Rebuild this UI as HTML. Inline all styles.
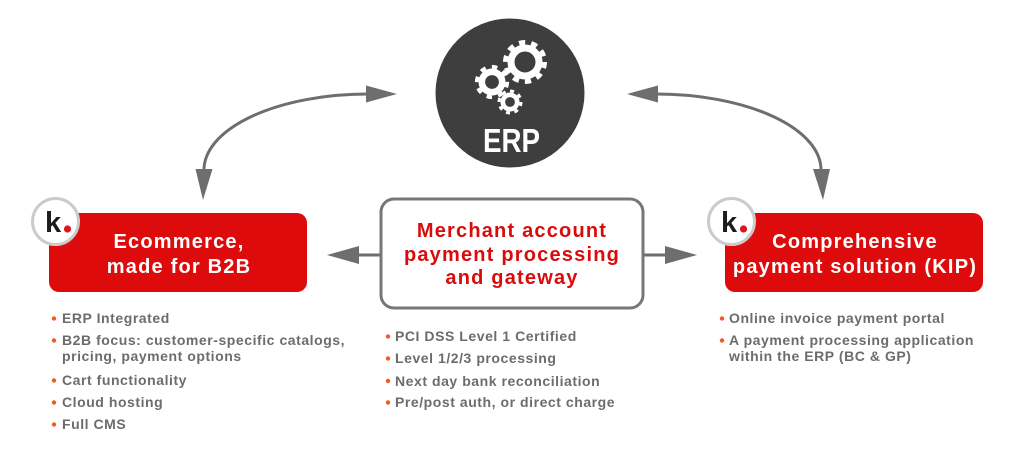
<!DOCTYPE html>
<html>
<head>
<meta charset="utf-8">
<style>
  html,body{margin:0;padding:0;background:#fff;}
  body{width:1024px;height:449px;overflow:hidden;}
  svg{display:block;}
  .b{font-family:"Liberation Sans",Arial,sans-serif;font-weight:bold;}
  .hd{font-size:20px;letter-spacing:1.2px;fill:#fff;}
  .mh{font-size:20px;letter-spacing:1.2px;fill:#d80c0c;}
  .li{font-size:14px;letter-spacing:0.55px;fill:#6c6c6c;}
</style>
</head>
<body>
<svg width="1024" height="449" viewBox="0 0 1024 449" xmlns="http://www.w3.org/2000/svg">
  <rect width="1024" height="449" fill="#fff"/>

  <!-- curved arrows -->
  <g fill="none" stroke="#6e6e6e" stroke-width="3">
    <path d="M368,94 A164,76 0 0 0 204,171"/>
    <path d="M656,94 A165,76 0 0 1 821,171"/>
    <line x1="380" y1="255" x2="356" y2="255"/>
    <line x1="643" y1="255" x2="667" y2="255"/>
  </g>
  <g fill="#6e6e6e">
    <polygon points="366,85.5 397,94 366,102.5"/>
    <polygon points="195.5,169 212.5,169 203,200"/>
    <polygon points="658,85.5 627,94 658,102.5"/>
    <polygon points="813,169 830,169 823,200"/>
    <polygon points="359,246 327,255 359,264"/>
    <polygon points="665,246 697,255 665,264"/>
  </g>

  <!-- ERP circle -->
  <circle cx="510" cy="93" r="74.5" fill="#3e3e3e"/>
  <g fill="none" stroke="#fff">
    <!-- big gear -->
    <circle cx="525" cy="62" r="14" stroke-width="7"/>
    <circle cx="525" cy="62" r="19.5" stroke-width="5" stroke-dasharray="6.2 6.05"/>
    <!-- medium gear -->
    <circle cx="492" cy="82" r="10.2" stroke-width="6.6"/>
    <circle cx="492" cy="82" r="15.2" stroke-width="3.8" stroke-dasharray="5.5 6.4"/>
    <!-- small gear -->
    <circle cx="510" cy="102" r="7.2" stroke-width="4.6"/>
    <circle cx="510" cy="102" r="11" stroke-width="3" stroke-dasharray="4 4.6"/>
  </g>
  <text x="483" y="152" class="b" font-size="33" fill="#fff" textLength="57" lengthAdjust="spacingAndGlyphs">ERP</text>

  <!-- Left red box -->
  <rect x="49" y="213" width="258" height="79" rx="10" fill="#dd0b0b"/>
  <text x="179" y="248" text-anchor="middle" class="b hd">Ecommerce,</text>
  <text x="179" y="273" text-anchor="middle" class="b hd">made for B2B</text>
  <circle cx="55.5" cy="221.5" r="23" fill="#fff" stroke="#cbcbcb" stroke-width="3"/>
  <text x="45" y="232" class="b" font-size="29" fill="#1c1c1c">k</text>
  <circle cx="67.5" cy="229" r="3.6" fill="#e0141b"/>

  <!-- Right red box -->
  <rect x="725" y="213" width="258" height="79" rx="10" fill="#dd0b0b"/>
  <text x="855" y="248" text-anchor="middle" class="b hd">Comprehensive</text>
  <text x="855" y="273" text-anchor="middle" class="b hd">payment solution (KIP)</text>
  <circle cx="731.5" cy="221.5" r="23" fill="#fff" stroke="#cbcbcb" stroke-width="3"/>
  <text x="721" y="232" class="b" font-size="29" fill="#1c1c1c">k</text>
  <circle cx="743.5" cy="229" r="3.6" fill="#e0141b"/>

  <!-- Merchant box -->
  <rect x="381" y="199" width="262" height="109" rx="13" fill="#fff" stroke="#777" stroke-width="3"/>
  <text x="512" y="237" text-anchor="middle" class="b mh">Merchant account</text>
  <text x="512" y="261" text-anchor="middle" class="b mh">payment processing</text>
  <text x="512" y="284" text-anchor="middle" class="b mh">and gateway</text>

  <!-- bullets -->
  <g fill="#f25a24">
    <circle cx="54" cy="318.5" r="2.2"/>
    <circle cx="54" cy="340.5" r="2.2"/>
    <circle cx="54" cy="380.5" r="2.2"/>
    <circle cx="54" cy="402.5" r="2.2"/>
    <circle cx="54" cy="424.5" r="2.2"/>

    <circle cx="388" cy="336.5" r="2.2"/>
    <circle cx="388" cy="358.5" r="2.2"/>
    <circle cx="388" cy="381" r="2.2"/>
    <circle cx="388" cy="402.5" r="2.2"/>

    <circle cx="722" cy="318.5" r="2.2"/>
    <circle cx="722" cy="340.5" r="2.2"/>
  </g>

  <g class="b li">
    <text x="62" y="323">ERP Integrated</text>
    <text x="62" y="345">B2B focus: customer-specific catalogs,</text>
    <text x="62" y="361">pricing, payment options</text>
    <text x="62" y="385">Cart functionality</text>
    <text x="62" y="407">Cloud hosting</text>
    <text x="62" y="429">Full CMS</text>

    <text x="395" y="341">PCI DSS Level 1 Certified</text>
    <text x="395" y="363">Level 1/2/3 processing</text>
    <text x="395" y="386">Next day bank reconciliation</text>
    <text x="395" y="407">Pre/post auth, or direct charge</text>

    <text x="729" y="323">Online invoice payment portal</text>
    <text x="729" y="345">A payment processing application</text>
    <text x="729" y="361">within the ERP (BC &amp; GP)</text>
  </g>
</svg>
</body>
</html>
